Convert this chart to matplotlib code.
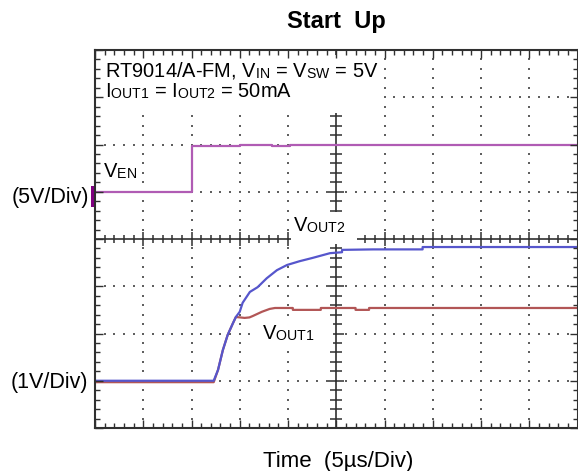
import numpy as np
import matplotlib
matplotlib.use("Agg")
import matplotlib.pyplot as plt
import matplotlib._mathtext as mathtext_internal
from matplotlib.patches import Rectangle

plt.rcParams['font.family'] = 'Liberation Sans'
plt.rcParams['mathtext.fontset'] = 'custom'
plt.rcParams['mathtext.rm'] = 'Liberation Sans'
plt.rcParams['mathtext.it'] = 'Liberation Sans:italic'
plt.rcParams['mathtext.bf'] = 'Liberation Sans:bold'
# subscripts in the scope labels sit almost on the baseline
mathtext_internal.FontConstantsBase.subdrop = 0.0
mathtext_internal.FontConstantsBase.sub1 = 0.1

# time in us (5 us/div, 10 div across)
t_en = [0, 10.0, 10.0, 15.0, 15.0, 18.3, 18.3, 20.2, 20.2, 50]
v_en = [0, 0, 4.86, 4.86, 4.92, 4.92, 4.86, 4.86, 5.0, 5.0]

t_out1 = [0, 12.3, 12.75, 13.25, 13.75, 14.3, 14.6, 15.5, 16.0, 16.35, 17.3,
          18.1, 18.65, 20.5, 20.5, 23.4, 23.4, 27.0, 27.0, 28.4, 28.4, 50]
v_out1 = [-0.03, -0.03, 0.23, 0.65, 0.97, 1.22, 1.35, 1.33, 1.34, 1.37, 1.46,
          1.52, 1.54, 1.54, 1.50, 1.50, 1.54, 1.54, 1.50, 1.50, 1.54, 1.54]

t_out2 = [0, 12.3, 12.75, 13.25, 13.75, 14.3, 14.6, 15.0, 15.3, 16.05, 16.85,
          17.8, 18.85, 19.9, 21.2, 22.55, 24.35, 25.6, 25.6, 28.8, 33.95, 33.95, 50]
v_out2 = [0, 0, 0.23, 0.65, 0.97, 1.22, 1.35, 1.46, 1.65, 1.88, 1.98,
          2.17, 2.34, 2.45, 2.53, 2.60, 2.70, 2.72, 2.77, 2.78, 2.78, 2.83, 2.83]

# channel scale (V/div) and ground position (div from bottom)
en_scale, en_pos = 5.0, 5
out_scale, out_pos = 1.0, 1

W, H = 578, 471


def fx(px):
    return px / W


def fy(py):
    return 1 - py / H


fig = plt.figure(figsize=(W / 100, H / 100), dpi=100)
ax = fig.add_axes([fx(95), fy(428), (577.5 - 95) / W, (428 - 50) / H])
ax.set_xlim(0, 50)
ax.set_ylim(0, 8)

# dotted graticule
gx = [5, 10, 15, 20, 30, 35, 40, 45]
gy = [1, 2, 3, 5, 6, 7]
ydots = np.arange(1, 40) * 0.2
xdots = np.arange(1, 50)
for x in gx:
    ax.scatter(np.full(len(ydots), x), ydots, s=1.6, marker='s', color='#606060',
               linewidths=0, zorder=1)
for y in gy:
    ax.scatter(xdots, np.full(len(xdots), y), s=1.6, marker='s', color='#606060',
               linewidths=0, zorder=1)

# centre cross with ticks
ax.axvline(25, color='#303030', lw=1.2, zorder=1.1)
ax.axhline(4, color='#303030', lw=1.2, zorder=1.1)
minor_y = [v for v in ydots if abs(v - round(v)) > 1e-6]
major_y = [v for v in range(1, 8) if v != 4]
ax.plot([25] * len(minor_y), minor_y, ls='none', marker='_', ms=8, mew=1.1,
        color='#303030', zorder=1.1)
ax.plot([25] * len(major_y), major_y, ls='none', marker='_', ms=11, mew=1.1,
        color='#303030', zorder=1.1)
minor_x = [v for v in xdots if v % 5 != 0]
major_x = [v for v in range(5, 50, 5) if v != 25]
ax.plot(minor_x, [4] * len(minor_x), ls='none', marker='|', ms=6, mew=1.1,
        color='#303030', zorder=1.1)
ax.plot(major_x, [4] * len(major_x), ls='none', marker='|', ms=9.5, mew=1.1,
        color='#303030', zorder=1.1)

# white masks behind labels
for x0, y0, x1, y1 in [(96, 55, 377, 113), (291, 212, 357, 244), (250, 322, 333, 346)]:
    ax.add_patch(Rectangle(((x0 - 95) / 482.5, (428 - y1) / 378),
                           (x1 - x0) / 482.5, (y1 - y0) / 378,
                           transform=ax.transAxes, facecolor='white',
                           edgecolor='none', zorder=1.2))

# traces
ax.plot(t_en, en_pos + np.array(v_en) / en_scale, color='#b05cb4', lw=1.6, zorder=2)
ax.plot(t_out1, out_pos + np.array(v_out1) / out_scale, color='#b25656', lw=1.6, zorder=2)
ax.plot(t_out2, out_pos + np.array(v_out2) / out_scale, color='#5656cc', lw=1.6, zorder=2.1)

# channel marker for EN
ax.add_patch(Rectangle((-0.42, 4.68), 0.42, 0.44, facecolor='#800080',
                       edgecolor='none', clip_on=False, zorder=3))

ax.set_xticks(np.arange(0, 51, 5))
ax.set_xticks(np.arange(0, 51, 1), minor=True)
ax.set_yticks(np.arange(0, 9, 1))
ax.set_yticks(np.arange(0, 8.01, 0.2), minor=True)
ax.tick_params(which='both', direction='in', top=True, right=True,
               labelbottom=False, labelleft=False, color='#303030', width=1)
ax.tick_params(which='major', length=6)
ax.tick_params(which='minor', length=3.6)
ax.set_axisbelow(False)
for sp in ax.spines.values():
    sp.set_linewidth(1.5)
    sp.set_color('#303030')
    sp.set_zorder(4)

# texts
fig.text(fx(336), fy(28.3), 'Start  Up', ha='center', va='baseline',
         fontsize=17, fontweight='bold')
fig.text(fx(338), fy(466.7), 'Time  (5\u00b5s/Div)', ha='center', va='baseline',
         fontsize=16)
fig.text(fx(105), fy(76.7), r'RT9014/A-FM, V$_{\rm IN}$ = V$_{\rm SW}$ = 5V',
         ha='left', va='baseline', fontsize=14.4)
fig.text(fx(105), fy(98.3), r'I$_{\rm OUT1}$ = I$_{\rm OUT2}$ = 50mA',
         ha='left', va='baseline', fontsize=14.4)
fig.text(fx(103), fy(178.3), r'V$_{\rm EN}$', ha='left', va='baseline', fontsize=14.5)
fig.text(fx(293), fy(231.7), r'V$_{\rm OUT2}$', ha='left', va='baseline', fontsize=14.5)
fig.text(fx(261.5), fy(340), r'V$_{\rm OUT1}$', ha='left', va='baseline', fontsize=14.5)
fig.text(fx(89), fy(202.5), '(5V/Div)', ha='right', va='baseline', fontsize=15.5)
fig.text(fx(88), fy(388.3), '(1V/Div)', ha='right', va='baseline', fontsize=15.5)

fig.savefig('out.png', dpi=100)
